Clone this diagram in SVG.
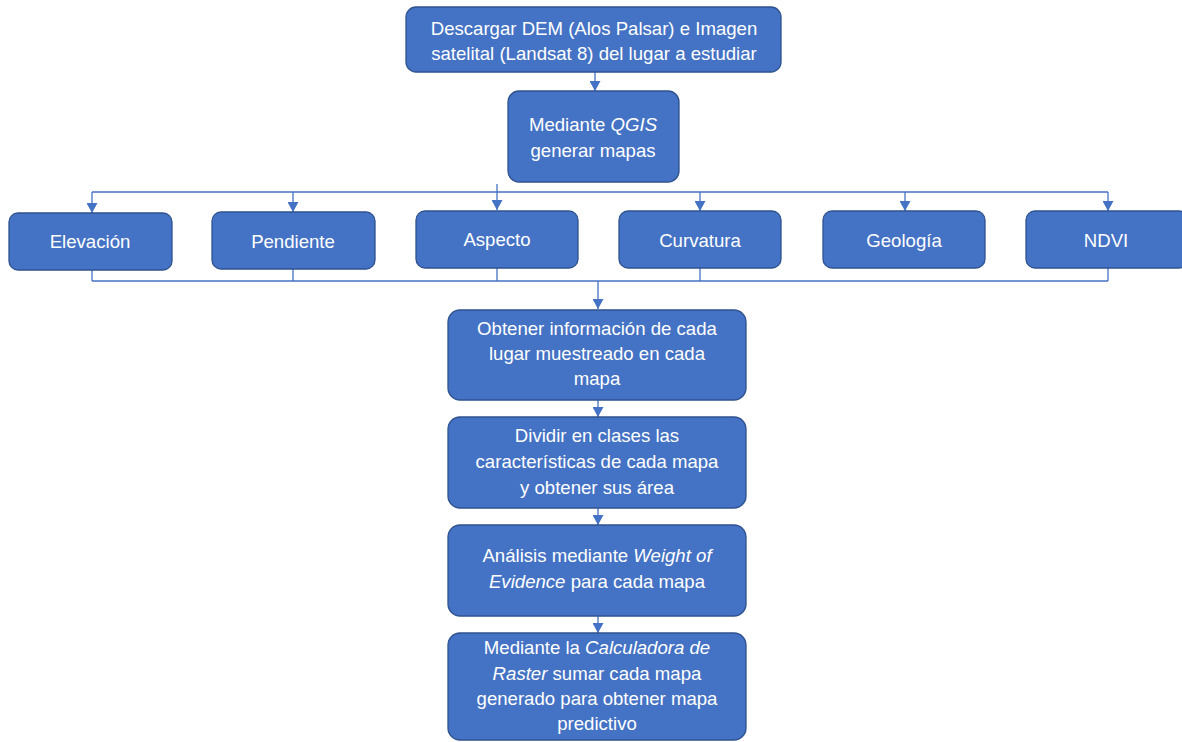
<svg xmlns="http://www.w3.org/2000/svg" width="1182" height="742" viewBox="0 0 1182 742">
<style>
.box{fill:#4472C4;stroke:#2F528F;stroke-width:1.3}
.t{font-family:"Liberation Sans",Arial,sans-serif;font-size:18.6px;fill:#FFFFFF;text-anchor:middle}
.c{stroke:#4472C4;stroke-width:1.3;fill:none}
</style>
<defs>
<marker id="ad" markerWidth="11" markerHeight="10" refX="5.5" refY="10" orient="0" markerUnits="userSpaceOnUse" viewBox="0 0 11 10">
<path d="M0,0 L11,0 L5.5,10 Z" fill="#4472C4"/>
</marker>
</defs>
<g id="connectors">
<line class="c" x1="595" y1="72" x2="595" y2="91" marker-end="url(#ad)"/>
<line class="c" x1="92" y1="192" x2="1108" y2="192"/>
<line class="c" x1="497" y1="184" x2="497" y2="210" marker-end="url(#ad)"/>
<line class="c" x1="92" y1="192" x2="92" y2="213" marker-end="url(#ad)"/>
<line class="c" x1="293" y1="192" x2="293" y2="212" marker-end="url(#ad)"/>
<line class="c" x1="700" y1="192" x2="700" y2="211" marker-end="url(#ad)"/>
<line class="c" x1="905" y1="192" x2="905" y2="211" marker-end="url(#ad)"/>
<line class="c" x1="1108" y1="192" x2="1108" y2="211" marker-end="url(#ad)"/>
<line class="c" x1="92" y1="270" x2="92" y2="281"/>
<line class="c" x1="293" y1="269" x2="293" y2="281"/>
<line class="c" x1="497" y1="268" x2="497" y2="281"/>
<line class="c" x1="700" y1="268" x2="700" y2="281"/>
<line class="c" x1="1108" y1="268" x2="1108" y2="281"/>
<line class="c" x1="92" y1="281" x2="1108" y2="281"/>
<line class="c" x1="598" y1="281" x2="598" y2="309" marker-end="url(#ad)"/>
<line class="c" x1="598" y1="400" x2="598" y2="417" marker-end="url(#ad)"/>
<line class="c" x1="598" y1="508" x2="598" y2="525" marker-end="url(#ad)"/>
<line class="c" x1="598" y1="616" x2="598" y2="633" marker-end="url(#ad)"/>
</g>
<g id="n1">
<rect class="box" x="406" y="7" width="375" height="65" rx="10"/>
<text class="t" x="594" y="35">Descargar DEM (Alos Palsar) e Imagen</text>
<text class="t" x="594" y="60">satelital (Landsat 8) del lugar a estudiar</text>
</g>
<g id="n2">
<rect class="box" x="508" y="91" width="171" height="91" rx="11"/>
<text class="t" x="593" y="131">Mediante <tspan font-style="italic">QGIS</tspan></text>
<text class="t" x="593" y="157">generar mapas</text>
</g>
<g id="n3">
<rect class="box" x="9" y="213" width="163" height="57" rx="9"/>
<text class="t" x="90" y="248">Elevación</text>
</g>
<g id="n4">
<rect class="box" x="212" y="212" width="163" height="57" rx="9"/>
<text class="t" x="293" y="248">Pendiente</text>
</g>
<g id="n5">
<rect class="box" x="416" y="211" width="162" height="57" rx="9"/>
<text class="t" x="497" y="246">Aspecto</text>
</g>
<g id="n6">
<rect class="box" x="619" y="211" width="162" height="57" rx="9"/>
<text class="t" x="700" y="247">Curvatura</text>
</g>
<g id="n7">
<rect class="box" x="823" y="211" width="162" height="57" rx="9"/>
<text class="t" x="904" y="247">Geología</text>
</g>
<g id="n8">
<rect class="box" x="1026" y="211" width="162" height="57" rx="9"/>
<text class="t" x="1106" y="247">NDVI</text>
</g>
<g id="n9">
<rect class="box" x="448" y="310" width="298" height="90" rx="12"/>
<text class="t" x="597" y="335">Obtener información de cada</text>
<text class="t" x="597" y="360">lugar muestreado en cada</text>
<text class="t" x="597" y="385">mapa</text>
</g>
<g id="n10">
<rect class="box" x="448" y="417" width="298" height="91" rx="12"/>
<text class="t" x="597" y="442">Dividir en clases las</text>
<text class="t" x="597" y="468">características de cada mapa</text>
<text class="t" x="597" y="494">y obtener sus área</text>
</g>
<g id="n11">
<rect class="box" x="448" y="525" width="298" height="91" rx="12"/>
<text class="t" x="597" y="562">Análisis mediante <tspan font-style="italic">Weight of</tspan></text>
<text class="t" x="597" y="588"><tspan font-style="italic">Evidence</tspan> para cada mapa</text>
</g>
<g id="n12">
<rect class="box" x="448" y="633" width="298" height="107" rx="12"/>
<text class="t" x="597" y="654">Mediante la <tspan font-style="italic">Calculadora de</tspan></text>
<text class="t" x="597" y="680"><tspan font-style="italic">Raster</tspan> sumar cada mapa</text>
<text class="t" x="597" y="705">generado para obtener mapa</text>
<text class="t" x="597" y="730">predictivo</text>
</g>
</svg>
